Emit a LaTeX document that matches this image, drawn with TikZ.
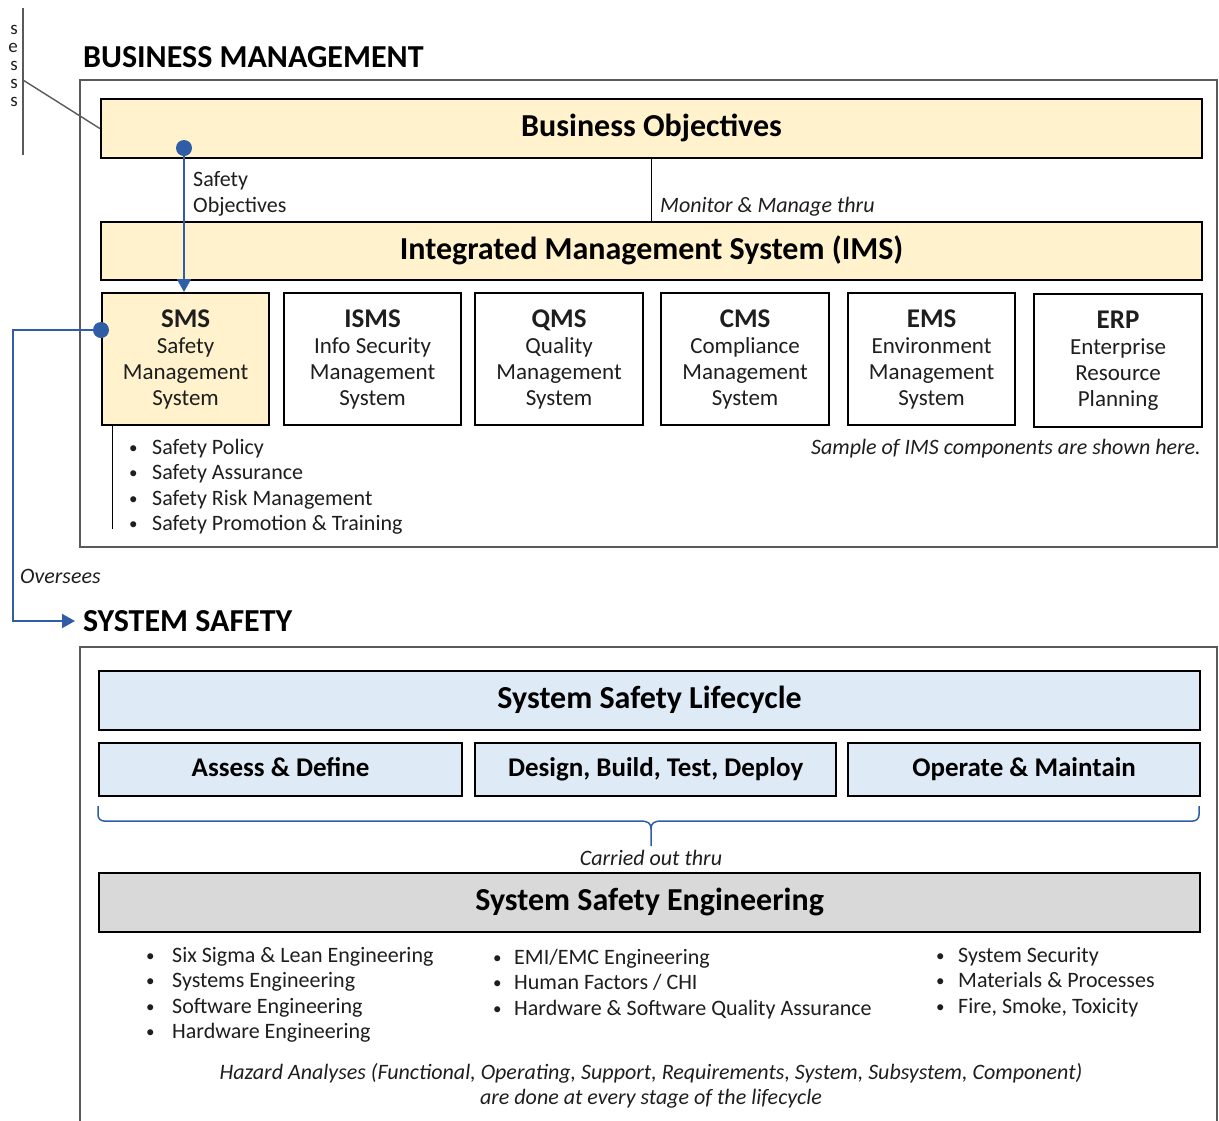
\documentclass[tikz,border=0pt]{standalone}
\usepackage{fontspec}
\setmainfont{Carlito}
\usetikzlibrary{arrows.meta}
\definecolor{yel}{HTML}{FFF2CC}
\definecolor{lblue}{HTML}{DEEBF7}
\definecolor{lgray}{HTML}{D9D9D9}
\definecolor{conn}{HTML}{2F5DA6}
\definecolor{frame}{HTML}{5A5A5A}
\definecolor{txt}{HTML}{1E1E1E}
\tikzset{
  box/.style={draw=black, line width=2.2pt, inner sep=0pt, anchor=north west, align=center, text=black},
  outer/.style={draw=frame, line width=1.4pt},
  big/.style={font=\fontsize{32}{34}\selectfont\bfseries, text height=22pt, text depth=6pt},
  phase/.style={font=\fontsize{27}{29}\selectfont\bfseries, text height=19pt, text depth=5pt},
  body/.style={font=\fontsize{23}{26}\selectfont, text=txt},
  small/.style={font=\fontsize{22}{26}\selectfont, text=txt},
  note/.style={font=\fontsize{22}{25}\selectfont\itshape, text=txt, inner sep=0pt},
  blist/.style={font=\fontsize{22}{25.5}\selectfont, text=txt, align=left, inner sep=0pt, anchor=north west},
  bconn/.style={draw=conn, line width=2pt},
  head/.style={font=\fontsize{32}{34}\selectfont\bfseries, inner sep=0pt, anchor=west, text=black},
  tip/.style={-{Triangle[length=13pt,width=14pt]}},
  cutl/.style={font=\fontsize{19}{19}\selectfont, text=txt, inner sep=0pt, anchor=base east},
}
\newcommand{\ttl}[1]{{\fontsize{27}{30}\selectfont\bfseries #1}}
\newcommand{\bul}[1]{\makebox[#1][l]{\raisebox{1pt}{\fontsize{17}{17}\selectfont\textbullet}}}
\begin{document}
\begin{tikzpicture}[x=1pt,y=-1pt]
\fill[white] (0,0) rectangle (1219,1120);
\useasboundingbox (0,0) rectangle (1219,1120);

% cut-off text at top left
\node[cutl] (cut1) at (18,34) {s};
\node[cutl] (cut2) at (18,52) {e};
\node[cutl] (cut3) at (18,70) {s};
\node[cutl] (cut4) at (18,88) {s};
\node[cutl] (cut5) at (18,106) {s};
\coordinate (vt) at (23,8);
\coordinate (vb) at (23,155);
\coordinate (vm) at (23,80);
\draw[draw=frame, line width=1.4pt] (vt) -- (vb);

% ===== BUSINESS MANAGEMENT =====
\node[head] (bmh) at (83,57) {BUSINESS MANAGEMENT};
\draw[outer] (80,80) rectangle (1217,547);

\node[box, fill=yel, minimum width=1101pt, minimum height=59pt, big] (bo) at (100,98) {Business Objectives};
\node[box, fill=yel, minimum width=1101pt, minimum height=58pt, big] (ims) at (100,221) {Integrated Management System (IMS)};

\draw[draw=frame, line width=1.4pt] (vm) -- (bo.west);

\node[box, fill=yel, minimum width=167pt, minimum height=132pt, body] (sms) at (101,292) {\ttl{SMS}\\Safety\\Management\\System};
\node[box, minimum width=177pt, minimum height=132pt, body] (isms) at (283,292) {\ttl{ISMS}\\Info Security\\Management\\System};
\node[box, minimum width=168pt, minimum height=132pt, body] (qms) at (474,292) {\ttl{QMS}\\Quality\\Management\\System};
\node[box, minimum width=168pt, minimum height=132pt, body] (cms) at (660,292) {\ttl{CMS}\\Compliance\\Management\\System};
\node[box, minimum width=167pt, minimum height=132pt, body] (ems) at (847,292) {\ttl{EMS}\\Environment\\Management\\System};
\node[box, minimum width=168pt, minimum height=133pt, body] (erp) at (1033,293) {\ttl{ERP}\\Enterprise\\Resource\\Planning};

% monitor line
\draw[black, line width=1pt] (bo.south) -- (ims.north);
\node[note, anchor=west] (mon) at (660,207) {Monitor \& Manage thru};

% safety objectives
\coordinate (sod) at (184,148);
\draw[bconn, tip] (sod) -- (sod |- sms.north);
\fill[conn] (sod) circle (8pt);
\node[small, align=left, anchor=north west, inner sep=0pt] (sol) at (193,171) {Safety\\Objectives};

% SMS bullets
\draw[black, line width=1pt] (sms.south -| 112,0) -- (112,529);
\node[blist] (smsl) at (129,439) {\bul{23pt}Safety Policy\\\bul{23pt}Safety Assurance\\\bul{23pt}Safety Risk Management\\\bul{23pt}Safety Promotion \& Training};

\node[note, anchor=east] (samp) at (1201,449) {Sample of IMS components are shown here.};

% ===== SYSTEM SAFETY =====
\node[head] (ssh) at (83,621) {SYSTEM SAFETY};
\draw[outer] (80,1135) -- (80,647) -- (1217,647) -- (1217,1135);

% oversees connector
\coordinate (ovd) at (101,330);
\coordinate (ov1) at (13,330);
\coordinate (ov2) at (13,621);
\draw[bconn, tip] (ovd) -- (ov1) -- (ov2) -- ([xshift=-8pt]ssh.west);
\fill[conn] (ovd) circle (8pt);
\node[note, anchor=west] (ovl) at (20,576) {Oversees};

\node[box, fill=lblue, minimum width=1101pt, minimum height=59pt, big] (ssl) at (98,670) {System Safety Lifecycle};
\node[box, fill=lblue, minimum width=363pt, minimum height=53pt, phase] (ad) at (98,742) {Assess \& Define};
\node[box, fill=lblue, minimum width=361pt, minimum height=53pt, phase] (dbt) at (474,742) {Design, Build, Test, Deploy};
\node[box, fill=lblue, minimum width=352pt, minimum height=53pt, phase] (om) at (847,742) {Operate \& Maintain};

% brace
\draw[bconn, line width=1.5pt, rounded corners=6pt] (98,806) |- (640,821);
\draw[bconn, line width=1.5pt, rounded corners=6pt] (1199,806) |- (662,821);
\draw[bconn, line width=1.5pt] (640,821) .. controls (648,821) and (651,823) .. (651,829) -- (651,846);
\draw[bconn, line width=1.5pt] (662,821) .. controls (654,821) and (651,823) .. (651,829);

\node[note, anchor=center] (cot) at (651,858) {Carried out thru};

\node[box, fill=lgray, minimum width=1101pt, minimum height=59pt, big] (sse) at (98,872) {System Safety Engineering};

\node[blist] (c1) at (146,947) {\bul{26pt}Six Sigma \& Lean Engineering\\\bul{26pt}Systems Engineering\\\bul{26pt}Software Engineering\\\bul{26pt}Hardware Engineering};
\node[blist] (c2) at (493,949) {\bul{21pt}EMI/EMC Engineering\\\bul{21pt}Human Factors / CHI\\\bul{21pt}Hardware \& Software Quality Assurance};
\node[blist] (c3) at (936,947) {\bul{22pt}System Security\\\bul{22pt}Materials \& Processes\\\bul{22pt}Fire, Smoke, Toxicity};

\node[note, align=center, anchor=center] (haz) at (651,1086) {Hazard Analyses (Functional, Operating, Support, Requirements, System, Subsystem, Component)\\are done at every stage of the lifecycle};
\end{tikzpicture}
\end{document}
